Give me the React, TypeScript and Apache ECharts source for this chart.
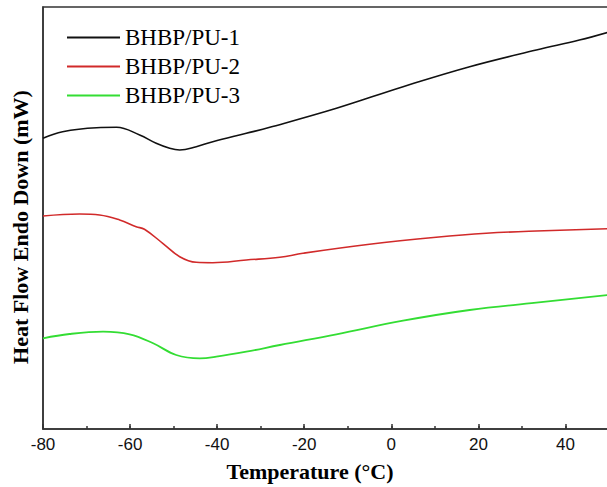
import React, { useEffect, useRef } from "react";
import * as echarts from "echarts";

const seriesNames = ["BHBP/PU-1", "BHBP/PU-2", "BHBP/PU-3"];

const temps1 = [-80, -75.5, -67.7, -63.1, -57.8, -54, -50.9, -48.6, -44.8, -41, -33.3, -27.9, -12.6, 2.7, 18, 33.3, 43.2, 50];
const flow1 = [290.7, 297.3, 301.3, 301.7, 294, 285.7, 280.7, 279, 282.3, 287.3, 295.7, 301.7, 320.7, 342.3, 362.3, 379, 389, 397];

const temps2 = [-80, -71.6, -67, -62.4, -58.6, -56.7, -52.5, -48.6, -44.8, -41, -33.3, -25.6, -20.3, -5, 10.3, 21.8, 33.3, 50];
const flow2 = [213, 215, 214, 209, 202.3, 199.7, 185.7, 172.3, 166.7, 166.3, 169, 171.7, 175.7, 184.7, 191.7, 195.7, 198, 200.3];

const temps3 = [-80, -73.9, -66.2, -60.1, -54.7, -49.4, -44, -40.2, -33.3, -25.6, -12.6, 2.7, 18, 33.3, 50];
const flow3 = [90.7, 95, 97.3, 94.7, 85.7, 74, 70.7, 72.3, 77.3, 84, 94.7, 108.3, 119, 126.3, 134];

const xMin = -80;
const xMax = 50;
const yMin = 0;
const yMax = 422;

const colors = ["#111111", "#d12a2a", "#33dd33"];

const serif = "'Liberation Serif', 'Times New Roman', serif";
const sans = "'Liberation Sans', Arial, sans-serif";

function pairs(xs: number[], ys: number[]) {
  return xs.map((x, i) => [x, ys[i]]);
}

export default function App() {
  const ref = useRef<HTMLDivElement>(null);
  useEffect(() => {
    if (!ref.current) return;
    const chart = echarts.init(ref.current, undefined, { renderer: "svg" });
    const tickStyle = { color: "#333", width: 1.5 };
    chart.setOption({
      animation: false,
      backgroundColor: "#fff",
      grid: {
        left: 43,
        right: -2,
        top: 7,
        bottom: 58,
        show: true,
        borderColor: "#333",
        borderWidth: 1.5,
        containLabel: false,
        outerBoundsMode: "none",
      },
      legend: {
        orient: "vertical",
        left: 67,
        top: 26,
        padding: 0,
        itemWidth: 53,
        itemHeight: 2,
        itemGap: 6,
        icon: "rect",
        textStyle: { fontSize: 23, fontFamily: serif, color: "#000" },
        data: seriesNames,
      },
      xAxis: [
        {
          type: "value",
          min: xMin,
          max: xMax,
          interval: 20,
          position: "bottom",
          axisLine: { show: true, onZero: false, lineStyle: tickStyle },
          axisTick: { show: true, inside: true, length: 5, lineStyle: tickStyle },
          axisLabel: {
            color: "#111",
            fontSize: 17,
            fontFamily: sans,
            margin: 7,
            formatter: (v: number) => (v === 50 ? "" : String(v)),
          },
          splitLine: { show: false },
        },
        {
          type: "value",
          min: xMin,
          max: xMax,
          interval: 10,
          position: "bottom",
          axisLine: { show: false, onZero: false },
          axisTick: { show: true, inside: true, length: 3, lineStyle: tickStyle },
          axisLabel: { show: false },
          splitLine: { show: false },
        },
      ],
      yAxis: {
        type: "value",
        min: yMin,
        max: yMax,
        axisLine: { show: true, onZero: false, lineStyle: tickStyle },
        axisTick: { show: false },
        axisLabel: { show: false },
        splitLine: { show: false },
      },
      graphic: [
        {
          type: "text",
          x: 310,
          y: 471,
          style: {
            text: "Temperature (°C)",
            fontSize: 22,
            fontWeight: "bold",
            fontFamily: serif,
            fill: "#000",
            align: "center",
            verticalAlign: "middle",
          },
        },
        {
          type: "text",
          x: 20,
          y: 227,
          rotation: Math.PI / 2,
          style: {
            text: "Heat Flow Endo Down (mW)",
            fontSize: 22,
            fontWeight: "bold",
            fontFamily: serif,
            fill: "#000",
            align: "center",
            verticalAlign: "middle",
          },
        },
      ],
      series: [
        { name: seriesNames[0], data: pairs(temps1, flow1) },
        { name: seriesNames[1], data: pairs(temps2, flow2) },
        { name: seriesNames[2], data: pairs(temps3, flow3) },
      ].map((s, i) => ({
        ...s,
        type: "line",
        xAxisIndex: 0,
        smooth: 0.4,
        symbol: "none",
        showSymbol: false,
        color: colors[i],
        lineStyle: { color: colors[i], width: i === 2 ? 1.8 : 1.6 },
      })),
    });
    return () => chart.dispose();
  }, []);
  return (
    <div
      ref={ref}
      style={{ position: "fixed", left: 0, top: 0, width: 607, height: 487 }}
    />
  );
}
